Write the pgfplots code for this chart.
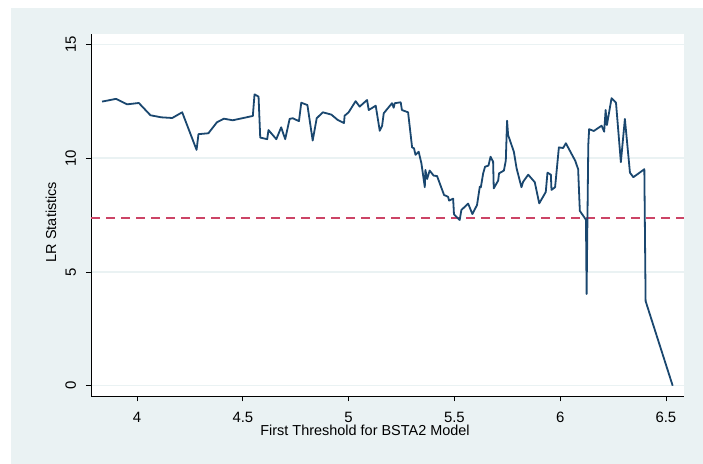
\documentclass[border=0pt]{standalone}
\usepackage{fontspec}
\setmainfont{Liberation Sans}
\usepackage{pgfplots}
\pgfplotsset{compat=1.18}
\definecolor{stnavy}{RGB}{26,71,111}
\definecolor{stbg}{RGB}{234,242,243}
\definecolor{stred}{RGB}{204,68,102}
\begin{document}
\begin{tikzpicture}[x=1bp,y=1bp]
\path[use as bounding box,fill=white] (0,0) rectangle (703,464);
\fill[stbg] (11,0) rectangle (703,456);
\begin{axis}[
  at={(91.3bp,68bp)}, anchor=south west,
  scale only axis, width=593bp, height=362bp,
  xmin=3.7833, xmax=6.587, ymin=-0.45, ymax=15.45,
  axis background/.style={fill=white},
  axis x line*=bottom, axis y line*=left,
  axis line style={black, line width=0.8bp},
  xtick={4,4.5,5,5.5,6,6.5}, ytick={0,5,10,15},
  xticklabels={4,4.5,5,5.5,6,6.5},
  yticklabels={0,5,10,15},
  tick align=outside, major tick length=5.5bp,
  tick style={black, line width=0.8bp},
  minor tick num=0,
  ymajorgrids, grid style={stbg, line width=1.2bp},
  /pgf/number format/assume math mode=true,
  tick label style={font=\fontsize{15}{17}\selectfont},
  xticklabel style={anchor=base}, xticklabel shift=21bp,
  yticklabel style={rotate=90, anchor=base}, yticklabel shift=10bp,
  label style={font=\fontsize{14.5}{17}\selectfont},
  xlabel={First Threshold for BSTA2 Model},
  xlabel style={at={(axis description cs:0.4616,0)}, anchor=base, yshift=-39.5bp},
  ylabel={LR Statistics},
  ylabel style={at={(axis description cs:-0.0595,0.4807)}, rotate=0, anchor=base},
  clip=false,
]
\addplot[stred, line width=2bp, dash pattern=on 9bp off 6bp] coordinates {(3.7833,7.35) (6.587,7.35)};
\addplot[stnavy, line width=1.8bp, line join=round] coordinates {
(3.834,12.48) (3.900,12.60) (3.953,12.36) (4.008,12.42) (4.063,11.88) (4.114,11.79)
(4.166,11.76) (4.213,12.01) (4.281,10.36) (4.290,11.05) (4.337,11.09) (4.377,11.57)
(4.410,11.73) (4.452,11.66) (4.547,11.85) (4.555,12.80) (4.574,12.70) (4.582,10.90)
(4.615,10.83) (4.621,11.23) (4.658,10.83) (4.681,11.35) (4.700,10.83) (4.721,11.72)
(4.736,11.75) (4.765,11.62) (4.776,12.43) (4.805,12.33) (4.830,10.77) (4.849,11.75)
(4.878,12.01) (4.918,11.91) (4.949,11.67) (4.978,11.54) (4.981,11.86) (5.000,12.01)
(5.033,12.50) (5.052,12.26) (5.087,12.55) (5.095,12.11) (5.128,12.30) (5.147,11.20)
(5.158,11.41) (5.166,11.97) (5.205,12.41) (5.213,12.21) (5.218,12.41) (5.246,12.45)
(5.252,12.11) (5.281,12.01) (5.300,10.47) (5.309,10.43) (5.316,10.14) (5.331,10.28)
(5.344,9.77) (5.360,8.72) (5.363,9.48) (5.371,9.08) (5.383,9.45) (5.402,9.23)
(5.418,9.21) (5.451,8.38) (5.470,8.30) (5.475,8.13) (5.494,8.22) (5.498,7.53)
(5.525,7.28) (5.533,7.72) (5.565,8.00) (5.585,7.54) (5.607,7.94) (5.620,8.74)
(5.625,8.72) (5.636,9.33) (5.645,9.62) (5.661,9.67) (5.671,10.06) (5.683,9.84)
(5.686,8.67) (5.707,9.01) (5.711,9.33) (5.734,9.45) (5.743,9.89) (5.749,11.64)
(5.754,11.01) (5.781,10.28) (5.794,9.55) (5.817,8.72) (5.825,8.96) (5.849,9.27)
(5.880,8.94) (5.901,8.01) (5.932,8.51) (5.940,9.36) (5.956,9.27) (5.959,8.60)
(5.976,8.72) (5.994,10.47) (6.014,10.44) (6.027,10.65) (6.065,9.99) (6.071,9.89)
(6.085,9.51) (6.093,7.68) (6.114,7.40) (6.122,7.28) (6.125,4.03) (6.133,10.58)
(6.137,11.27) (6.159,11.19) (6.196,11.42) (6.208,11.16) (6.215,12.11) (6.221,11.45)
(6.243,12.63) (6.264,12.43) (6.287,9.82) (6.306,11.72) (6.330,9.36) (6.346,9.16)
(6.398,9.51) (6.404,3.72) (6.532,0.0)
};
\end{axis}
\end{tikzpicture}
\end{document}
